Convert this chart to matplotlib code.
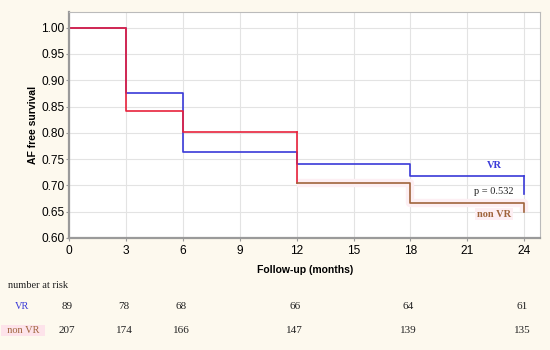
import matplotlib
matplotlib.use("Agg")
import matplotlib.pyplot as plt
import matplotlib.transforms as mtransforms
import numpy as np

# Kaplan-Meier step values (survival after each time point)
times = [0, 3, 6, 12, 18, 24]
vr_surv = [1.000, 0.876, 0.763, 0.740, 0.717, 0.683]
nonvr_surv = [1.000, 0.841, 0.801, 0.704, 0.666, 0.650]

risk_times = [0, 3, 6, 12, 18, 24]
vr_risk = [89, 78, 68, 66, 64, 61]
nonvr_risk = [207, 174, 166, 147, 139, 135]

BG = "#fdf9ee"
BLUE = "#3a3ad8"
RED = "#e8223c"
BROWN = "#a0643c"
PINK = "#fde3ea"

fig = plt.figure(figsize=(5.5, 3.5), dpi=100, facecolor=BG)
ax = fig.add_axes([0.1255, 0.32, 0.857, 0.646])
ax.set_facecolor("white")

# VR curve
ax.step(times[:-1] + [24], vr_surv[:-1] + [vr_surv[-2]], where="post", color=BLUE, lw=1.2)
ax.plot([24, 24], [vr_surv[-2], vr_surv[-1]], color=BLUE, lw=1.2)

# non VR curve: red up to 12 months, brown afterwards
ax.step(times[:4], nonvr_surv[:3] + [nonvr_surv[2]], where="post", color=RED, lw=1.2)
ax.plot([12, 12], [nonvr_surv[2], nonvr_surv[3]], color=RED, lw=1.2)
bx = [12, 18, 18, 24, 24]
by = [nonvr_surv[3], nonvr_surv[3], nonvr_surv[4], nonvr_surv[4], nonvr_surv[5]]
ax.plot(bx, by, color="#fdeff3", lw=6, solid_capstyle="butt", zorder=1)
ax.plot(bx, by, color=BROWN, lw=1.2, zorder=2)

ax.set_xlim(0, 24.85)
ax.set_ylim(0.60, 1.03)
ax.set_xticks(np.arange(0, 25, 3))
ax.set_yticks(np.arange(0.60, 1.001, 0.05))
ax.set_yticklabels([f"{v:.2f}" for v in np.arange(0.60, 1.001, 0.05)])
ax.grid(color="#e3e3e3", lw=0.8)
ax.set_axisbelow(True)
ax.tick_params(labelsize=8.6, length=2, color="#999999", pad=1.5,
               labelfontfamily="Liberation Sans")
ax.tick_params(axis="x", pad=3)
for s in ["left", "bottom"]:
    ax.spines[s].set_color("#9a9a9a")
    ax.spines[s].set_linewidth(1.6)
for s in ["top", "right"]:
    ax.spines[s].set_color("#bbbbbb")
    ax.spines[s].set_linewidth(0.8)

ax.set_ylabel("AF free survival", fontsize=7.5, fontweight="bold",
              family="Liberation Sans", labelpad=2)
ax.set_xlabel("Follow-up (months)", fontsize=7.5, fontweight="bold",
              family="Liberation Sans", labelpad=6)

serif = "Liberation Serif"
ax.text(22.4, 0.737, "VR", color=BLUE, fontsize=7.5, fontweight="bold",
        family=serif, ha="center", va="center")
ax.text(22.4, 0.689, "p = 0.532", color="#222222", fontsize=7.5,
        family=serif, ha="center", va="center")
ax.text(22.4, 0.645, "non VR", color=BROWN, fontsize=7.5, fontweight="bold",
        family=serif, ha="center", va="center",
        bbox=dict(boxstyle="square,pad=0.15", fc="#fdeff3", ec="none"))

# number at risk table
fig.text(0.015, 0.185, "number at risk", fontsize=7.5, family=serif, color="#222222",
         va="center")
trans = mtransforms.blended_transform_factory(ax.transData, fig.transFigure)
fig.text(0.027, 0.125, "VR", fontsize=7.5, family=serif, color=BLUE,
         ha="left", va="center")
fig.text(0.003, 0.055, "  non VR  ", fontsize=7.5, family=serif, color=BROWN,
         ha="left", va="center",
         bbox=dict(boxstyle="square,pad=0.1", fc=PINK, ec="none"))
for t, a, b in zip(risk_times, vr_risk, nonvr_risk):
    ax.text(t - 0.1, 0.125, str(a), transform=trans, fontsize=8, family=serif,
            color="#222222", ha="center", va="center")
    ax.text(t - 0.1, 0.055, str(b), transform=trans, fontsize=8, family=serif,
            color="#222222", ha="center", va="center")

fig.savefig("out.png", dpi=100, facecolor=BG)
